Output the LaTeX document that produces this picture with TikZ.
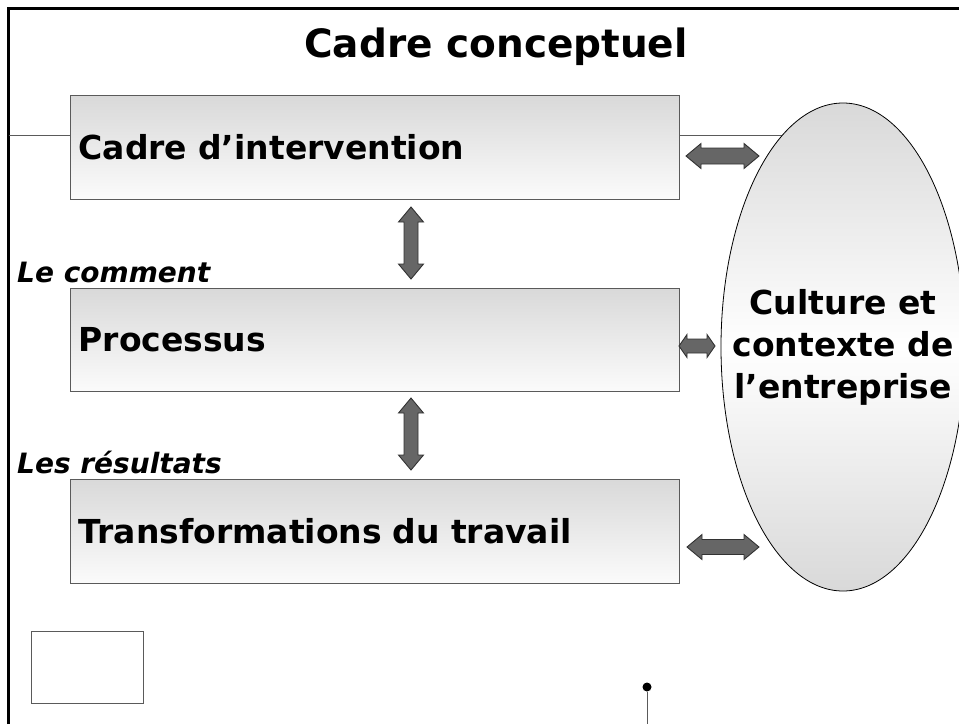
\documentclass[tikz,border=0pt]{standalone}
\usepackage{fontspec}
\setmainfont{DejaVu Sans}
\usetikzlibrary{shapes.geometric, positioning, backgrounds, calc}
\definecolor{boxedge}{RGB}{90,90,90}
\definecolor{arrowfill}{RGB}{102,102,102}
\definecolor{arrowedge}{RGB}{50,50,50}

\begin{document}
\begin{tikzpicture}[
    x=1pt, y=1pt,
    stage/.style={draw=boxedge, line width=1.2pt, top color=gray!30, bottom color=gray!3, minimum width=609pt, minimum height=104pt, inner xsep=8pt, text width=593pt, align=left, anchor=north west, font=\fontsize{33}{40}\selectfont\bfseries},
    tag/.style={anchor=base west, inner sep=0pt, font=\fontsize{28}{32}\selectfont\bfseries\itshape},
    pics/blockarrow/.style args={#1/#2/#3/#4}{code={
        \filldraw[draw=arrowedge, fill=arrowfill, line width=0.9pt]
            (-#1,0) -- ({-#1+#4},#2) -- ({-#1+#4},#3) -- ({#1-#4},#3) -- ({#1-#4},#2) -- (#1,0)
            -- ({#1-#4},-#2) -- ({#1-#4},-#3) -- ({-#1+#4},-#3) -- ({-#1+#4},-#2) -- cycle;
    }}
]
    \useasboundingbox (0,0) rectangle (959,-724);

    % Frame
    \draw[line width=3pt] (8.5,-724) -- (8.5,-8.5) -- (959,-8.5);

    % Title
    \node[anchor=base, font=\fontsize{39}{45}\selectfont\bfseries] (title) at (496,-57) {Cadre conceptuel};

    % Stages
    \node[stage] (cadre) at (70,-95) {Cadre d’intervention};
    \node[stage, minimum height=103pt] (proc) at (70,-288) {Processus};
    \node[stage] (trans) at (70,-479) {Transformations du travail};

    % Labels
    \node[tag] (comment) at (17,-282) {Le comment};
    \node[tag] (result) at (17,-473) {Les résultats};

    % Context
    \node[ellipse, draw, line width=0.8pt, top color=gray!30, bottom color=gray!30, middle color=white, minimum width=244pt, minimum height=488pt, inner sep=0pt] (ctx) at (843,-347) {};
    \node[align=center, font=\fontsize{33}{42}\selectfont\bfseries] (ctxtext) at (ctx.center) {Culture et\\contexte de\\l’entreprise};

    % Thin lines
    \coordinate (lft) at (8.5,-135);
    \draw[boxedge, line width=0.8pt] (lft) -- (lft -| cadre.west);
    \begin{scope}[on background layer]
        \draw[boxedge, line width=0.8pt] (lft -| cadre.east) -- (lft -| ctx.center);
    \end{scope}

    % Arrows
    \pic (a1) at (722.5,-156) {blockarrow=36.5/12.5/8/15};
    \pic (a2) at (697,-346) {blockarrow=18/11.5/7/8};
    \pic (a3) at (723,-547) {blockarrow=36/12.5/7.5/15};
    \pic[rotate=90] (v1) at (411,-243) {blockarrow=36/12.5/7/15};
    \pic[rotate=90] (v2) at (411,-434) {blockarrow=36/12.5/7/15};

    % Blank box and pin
    \node[draw=boxedge, line width=1.2pt, minimum width=112pt, minimum height=72pt, anchor=north west] (blank) at (31,-631) {};
    \node[circle, fill, inner sep=0pt, minimum size=9pt] (pin) at (647,-687) {};
    \coordinate (pinfoot) at (647,-724);
    \draw[boxedge, line width=1pt] (pin) -- (pinfoot);
\end{tikzpicture}
\end{document}
